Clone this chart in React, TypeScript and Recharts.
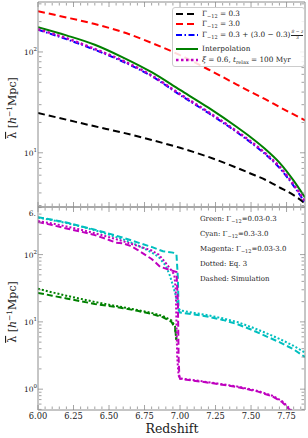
import React from "react";
import { LineChart, Line, XAxis, YAxis } from "recharts";

const FONT = "'DejaVu Serif', serif";
const FRAME = "#8c8c8c";

// top panel: uniform vs evolving photoionisation rate
const topZ = [6.0, 6.2, 6.4, 6.6, 6.8, 7.0, 7.2, 7.4, 7.5, 7.6, 7.7, 7.8, 7.88];
const gamma03 = [24.8, 21.3, 18.3, 15.8, 13.4, 11.2, 9.1, 7.1, 6.2, 5.4, 4.55, 3.8, 3.15];
const gamma30 = [253, 220, 189, 157, 123, 93, 67, 47.5, 40, 34, 28.5, 24, 21];
const gammaEvolving = [166, 134, 105, 80, 57.5, 37.5, 24.8, 16, 12.6, 9.7, 7.1, 4.7, 3.2];
const interpolation = [176, 146, 118, 88, 63, 42, 28, 18, 14.2, 10.9, 8.0, 5.3, 3.6];
const relax = [168, 137, 107, 81.5, 58.5, 38.2, 25.3, 16.3, 12.9, 9.9, 7.3, 4.85, 3.3];

// bottom panel: simulation (dashed) vs Eq. 3 (dotted)
const greenZ = [6.0, 6.1, 6.2, 6.3, 6.4, 6.5, 6.6, 6.7, 6.8, 6.88, 6.94, 6.965, 6.975];
const greenSim = [27, 24.5, 22.3, 20.3, 18.5, 17.2, 16, 14.6, 13.1, 11.7, 10, 8, 5.5];
const greenEq = [31, 27.5, 24.5, 22, 19.8, 18, 16.5, 15, 13.6, 12.2, 10.5, 8.5, 5];

const cyanSimZ = [6.0, 6.1, 6.2, 6.3, 6.4, 6.5, 6.6, 6.7, 6.8, 6.88, 6.95, 6.975, 6.985, 6.99, 7.0, 7.1, 7.2, 7.3, 7.4, 7.5, 7.6, 7.7, 7.8, 7.88];
const cyanSim = [360, 330, 300, 265, 235, 205, 178, 152, 130, 112, 107, 100, 45, 15, 13.8, 12.9, 11.9, 10.7, 9.3, 7.7, 6.2, 5.0, 3.9, 3.0];
const cyanEqZ = [6.0, 6.1, 6.2, 6.3, 6.4, 6.5, 6.6, 6.7, 6.8, 6.85, 6.9, 6.93, 6.965, 6.99, 7.0, 7.1, 7.2, 7.3, 7.4, 7.5, 7.6, 7.7, 7.8, 7.88];
const cyanEq = [355, 325, 295, 262, 230, 198, 168, 138, 108, 92, 68, 48, 27, 16, 14.8, 13.6, 12.5, 11.3, 10.0, 8.4, 6.9, 5.6, 4.4, 3.5];

const magentaSimZ = [6.0, 6.1, 6.2, 6.3, 6.4, 6.5, 6.55, 6.6, 6.65, 6.7, 6.8, 6.86, 6.92, 6.975, 6.985, 6.99, 6.995, 7.0, 7.2, 7.4, 7.55, 7.65, 7.72, 7.77, 7.8];
const magentaSim = [305, 275, 245, 220, 195, 165, 150, 147, 135, 118, 86, 66, 60, 55, 20, 3, 1.6, 1.42, 1.25, 1.08, 0.92, 0.78, 0.64, 0.5, 0.42];
const magentaEqZ = [6.0, 6.1, 6.2, 6.3, 6.4, 6.5, 6.6, 6.7, 6.8, 6.85, 6.9, 6.94, 6.96, 6.97, 6.975, 6.98, 6.99, 7.0, 7.2, 7.4, 7.55, 7.65, 7.72, 7.77, 7.8];
const magentaEq = [315, 290, 262, 235, 208, 182, 158, 135, 115, 100, 75, 58, 50, 30, 10, 3, 1.6, 1.45, 1.27, 1.1, 0.94, 0.8, 0.66, 0.52, 0.44];

const zMajor = [6.0, 6.25, 6.5, 6.75, 7.0, 7.25, 7.5, 7.75];
const zMinor = [6.05, 6.1, 6.15, 6.2, 6.3, 6.35, 6.4, 6.45, 6.55, 6.6, 6.65, 6.7, 6.8, 6.85, 6.9, 6.95, 7.05, 7.1, 7.15, 7.2, 7.3, 7.35, 7.4, 7.45, 7.55, 7.6, 7.65, 7.7, 7.8, 7.85];
const topMajor = [10, 100];
const topMinor = [3, 4, 5, 6, 7, 8, 9, 20, 30, 40, 50, 60, 70, 80, 90, 200, 300];
const botMajor = [1, 10, 100];
const botMinor = [0.5, 0.6, 0.7, 0.8, 0.9, 2, 3, 4, 5, 6, 7, 8, 9, 20, 30, 40, 50, 60, 70, 80, 90, 200, 300, 400, 500];

const zDomain: [number, number] = [6, 7.88];
const topDomain: [number, number] = [2.9, 313];
const botDomain: [number, number] = [0.49, 510];

const zip = (zs: number[], vs: number[]) => zs.map((z, i) => ({ z, v: vs[i] }));

function LogTick({ x, y, payload }: any) {
  const exp = Math.round(Math.log10(payload.value));
  return (
    <text x={x} y={y + 3} textAnchor="end" fontFamily={FONT} fontSize={7.5} fill="#222">
      10<tspan dy={-4} fontSize={5.5}>{exp}</tspan>
    </text>
  );
}

function ZTick({ x, y, payload }: any) {
  return (
    <text x={x} y={y + 8.5} textAnchor="middle" fontFamily={FONT} fontSize={8.3} fill="#222">
      {payload.value.toFixed(2)}
    </text>
  );
}

const NoLabel = () => <g />;

// inward ticks on all four sides, as in the matplotlib frame
function frameAxes(yDomain: [number, number], major: number[], minor: number[]) {
  const common = {
    tick: NoLabel,
    tickLine: { stroke: FRAME, strokeWidth: 0.8 },
    mirror: true,
    allowDataOverflow: true,
    interval: 0 as const,
    stroke: FRAME,
  };
  return [
    <XAxis key="xb" xAxisId="xb" type="number" dataKey="z" domain={zDomain} ticks={zMajor} tickSize={5} height={1} {...common} />,
    <XAxis key="xbm" xAxisId="xbm" type="number" dataKey="z" domain={zDomain} ticks={zMinor} tickSize={2.5} height={1} axisLine={false} {...common} />,
    <XAxis key="xt" xAxisId="xt" orientation="top" type="number" dataKey="z" domain={zDomain} ticks={zMajor} tickSize={5} height={1} {...common} />,
    <XAxis key="xtm" xAxisId="xtm" orientation="top" type="number" dataKey="z" domain={zDomain} ticks={zMinor} tickSize={2.5} height={1} axisLine={false} {...common} />,
    <YAxis key="yl" yAxisId="yL" type="number" scale="log" domain={yDomain} ticks={major} tickSize={5} width={1} {...common} />,
    <YAxis key="ylm" yAxisId="yLm" type="number" scale="log" domain={yDomain} ticks={minor} tickSize={2.5} width={1} axisLine={false} {...common} />,
    <YAxis key="yr" yAxisId="yR" orientation="right" type="number" scale="log" domain={yDomain} ticks={major} tickSize={5} width={1} {...common} />,
    <YAxis key="yrm" yAxisId="yRm" orientation="right" type="number" scale="log" domain={yDomain} ticks={minor} tickSize={2.5} width={1} axisLine={false} {...common} />,
  ];
}

const Swatch = ({ color, dash, width = 2 }: { color: string; dash?: string; width?: number }) => (
  <svg width={22} height={6} style={{ position: "absolute", left: 3, top: -3 }}>
    <line x1={0} y1={3} x2={22} y2={3} stroke={color} strokeWidth={width} strokeDasharray={dash} />
  </svg>
);

const G = () => (
  <span>
    Γ<sub style={{ fontSize: 5, verticalAlign: "-1.5px", lineHeight: 0 }}>−12</sub>
  </span>
);

const legendRows = [
  { top: 6, color: "#000", dash: "7 4", label: <><G /> = 0.3</> },
  { top: 16, color: "#ff0000", dash: "7 4", label: <><G /> = 3.0</> },
  {
    top: 27,
    color: "#0000ff",
    dash: "6 2.5 1.5 2.5",
    label: (
      <>
        <G /> = 0.3 + (3.0 − 0.3)
        <span style={{ display: "inline-flex", flexDirection: "column", alignItems: "center", fontSize: 4.5, lineHeight: "4.5px", verticalAlign: "4px", marginLeft: 1 }}>
          <span style={{ borderBottom: "0.5px solid #222", fontStyle: "italic" }}>8 − z</span>
          <span>3</span>
        </span>
      </>
    ),
  },
  { top: 41, color: "#008000", dash: undefined, label: <>Interpolation</> },
  {
    top: 52,
    color: "#bf00bf",
    dash: "2.5 2.5",
    width: 2.5,
    label: (
      <>
        <i>ξ</i> = 0.6, <i>t</i>
        <sub style={{ fontSize: 5, verticalAlign: "-1.5px", lineHeight: 0 }}>relax</sub> = 100 Myr
      </>
    ),
  },
];

const notes = [
  { y: 221, text: <>Green: Γ<tspan dy={1.5} fontSize={5}>−12</tspan><tspan dy={-1.5}>=0.03-0.3</tspan></> },
  { y: 236, text: <>Cyan: Γ<tspan dy={1.5} fontSize={5}>−12</tspan><tspan dy={-1.5}>=0.3-3.0</tspan></> },
  { y: 251, text: <>Magenta: Γ<tspan dy={1.5} fontSize={5}>−12</tspan><tspan dy={-1.5}>=0.03-3.0</tspan></> },
  { y: 266, text: <>Dotted: Eq. 3</> },
  { y: 281, text: <>Dashed: Simulation</> },
];

function YLabel({ cy }: { cy: number }) {
  return (
    <text transform={`translate(16,${cy}) rotate(-90)`} textAnchor="middle" fontFamily={FONT} fontSize={11} fill="#222">
      <tspan style={{ textDecoration: "overline" }}>λ</tspan> [<tspan fontStyle="italic">h</tspan>
      <tspan dy={-4} fontSize={7.5}>−1</tspan>
      <tspan dy={4}>Mpc]</tspan>
    </text>
  );
}

export default function App() {
  return (
    <div style={{ position: "absolute", left: 0, top: 0, width: 308, height: 438, background: "#fff", fontFamily: FONT }}>
      <div style={{ position: "absolute", left: 0, top: 0 }}>
        <LineChart width={308} height={210} margin={{ top: 2, right: 3, bottom: 3, left: 0 }}>
          <YAxis yAxisId="yl" type="number" scale="log" domain={topDomain} ticks={topMajor} allowDataOverflow width={38}
            axisLine={false} tickLine={false} tickSize={0} tickMargin={1} tick={<LogTick />} interval={0} />
          {frameAxes(topDomain, topMajor, topMinor)}
          <Line xAxisId="xb" yAxisId="yl" data={zip(topZ, gamma03)} dataKey="v" type="monotone" stroke="#000" strokeWidth={2} strokeDasharray="7 4" dot={false} isAnimationActive={false} />
          <Line xAxisId="xb" yAxisId="yl" data={zip(topZ, gamma30)} dataKey="v" type="monotone" stroke="#ff0000" strokeWidth={2} strokeDasharray="7 4" dot={false} isAnimationActive={false} />
          <Line xAxisId="xb" yAxisId="yl" data={zip(topZ, gammaEvolving)} dataKey="v" type="monotone" stroke="#0000ff" strokeWidth={2} strokeDasharray="6 2.5 1.5 2.5" dot={false} isAnimationActive={false} />
          <Line xAxisId="xb" yAxisId="yl" data={zip(topZ, interpolation)} dataKey="v" type="monotone" stroke="#008000" strokeWidth={2} dot={false} isAnimationActive={false} />
          <Line xAxisId="xb" yAxisId="yl" data={zip(topZ, relax)} dataKey="v" type="monotone" stroke="#bf00bf" strokeWidth={2.5} strokeDasharray="2.5 2.5" dot={false} isAnimationActive={false} />
        </LineChart>
      </div>
      <div style={{ position: "absolute", left: 0, top: 205 }}>
        <LineChart width={308} height={233} margin={{ top: 2, right: 3, bottom: 0, left: 0 }}>
          <YAxis yAxisId="yl" type="number" scale="log" domain={botDomain} ticks={botMajor} allowDataOverflow width={38}
            axisLine={false} tickLine={false} tickSize={0} tickMargin={1} tick={<LogTick />} interval={0} />
          <XAxis xAxisId="xl" type="number" dataKey="z" domain={zDomain} ticks={zMajor} allowDataOverflow height={28}
            axisLine={false} tickLine={false} tickSize={0} tickMargin={0} tick={<ZTick />} interval={0} />
          {frameAxes(botDomain, botMajor, botMinor)}
          <Line xAxisId="xl" yAxisId="yl" data={zip(greenZ, greenSim)} dataKey="v" type="linear" stroke="#008000" strokeWidth={2} strokeDasharray="6 3" dot={false} isAnimationActive={false} />
          <Line xAxisId="xl" yAxisId="yl" data={zip(greenZ, greenEq)} dataKey="v" type="linear" stroke="#008000" strokeWidth={2} strokeDasharray="2 2" dot={false} isAnimationActive={false} />
          <Line xAxisId="xl" yAxisId="yl" data={zip(cyanSimZ, cyanSim)} dataKey="v" type="linear" stroke="#00bfbf" strokeWidth={2} strokeDasharray="6 3" dot={false} isAnimationActive={false} />
          <Line xAxisId="xl" yAxisId="yl" data={zip(cyanEqZ, cyanEq)} dataKey="v" type="linear" stroke="#00bfbf" strokeWidth={2} strokeDasharray="2 2" dot={false} isAnimationActive={false} />
          <Line xAxisId="xl" yAxisId="yl" data={zip(magentaSimZ, magentaSim)} dataKey="v" type="linear" stroke="#bf00bf" strokeWidth={2} strokeDasharray="6 3" dot={false} isAnimationActive={false} />
          <Line xAxisId="xl" yAxisId="yl" data={zip(magentaEqZ, magentaEq)} dataKey="v" type="linear" stroke="#bf00bf" strokeWidth={2} strokeDasharray="2 2" dot={false} isAnimationActive={false} />
        </LineChart>
      </div>

      <div style={{ position: "absolute", left: 172, top: 7, width: 133, height: 60, boxSizing: "border-box", border: "1px solid #ccc", borderRadius: 3, background: "rgba(255,255,255,0.85)", fontSize: 7.3, color: "#222" }}>
        {legendRows.map((r, i) => (
          <div key={i} style={{ position: "absolute", left: 0, top: r.top, width: "100%" }}>
            <Swatch color={r.color} dash={r.dash} width={r.width} />
            <div style={{ position: "absolute", left: 29, top: -5, whiteSpace: "nowrap", lineHeight: "10px" }}>{r.label}</div>
          </div>
        ))}
      </div>

      <svg width={308} height={438} style={{ position: "absolute", left: 0, top: 0, pointerEvents: "none" }}>
        <YLabel cy={108} />
        <YLabel cy={312} />
        <text x={172} y={433} textAnchor="middle" fontFamily={FONT} fontSize={12.5} fill="#222">Redshift</text>
        <text x={36} y={216} textAnchor="end" fontFamily={FONT} fontSize={7.5} fill="#222">6.</text>
        {notes.map((n, i) => (
          <text key={i} x={200} y={n.y} fontFamily={FONT} fontSize={7} fill="#222">{n.text}</text>
        ))}
      </svg>
    </div>
  );
}
